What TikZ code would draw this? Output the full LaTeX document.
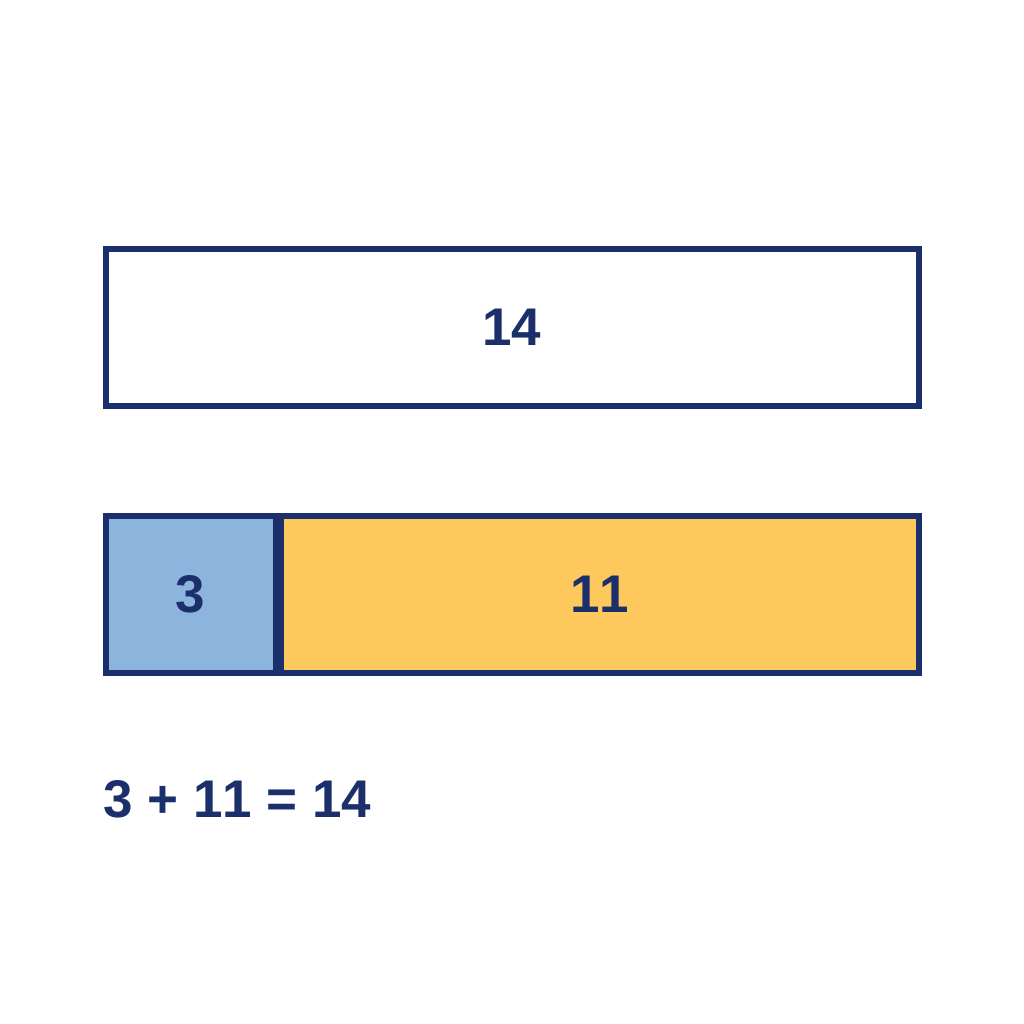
\documentclass[tikz,border=0pt]{standalone}
\usepackage{fontspec}
\setmainfont[Kerning=Off]{Liberation Sans}
\definecolor{navy}{HTML}{1B2F6B}
\definecolor{lblue}{HTML}{8DB4DC}
\definecolor{lyellow}{HTML}{FDC85C}
\begin{document}
\begin{tikzpicture}[x=1pt,y=-1pt,
  bar/.style={draw=navy,line width=6pt},
  num/.style={text=navy,font=\fontsize{53}{60}\selectfont\bfseries,inner sep=0pt}]
\useasboundingbox (0,0) rectangle (1024,1024);
\fill[white] (0,0) rectangle (1024,1024);
\draw[bar,fill=white] (105.5,248.7) rectangle (919,406.3);
\node[num] (whole) at (512,327.5) {14};
\draw[bar,fill=lblue] (105.5,515.5) rectangle (275.5,673);
\draw[bar,fill=lyellow] (280.5,515.5) rectangle (919,673);
\node[num] (partA) at (190.5,594.3) {3};
\node[num] (partB) at (599.7,594.3) {11};
\node[num,anchor=base west] (eq) at (103,817) {3 + 11 = 14};
\end{tikzpicture}
\end{document}
